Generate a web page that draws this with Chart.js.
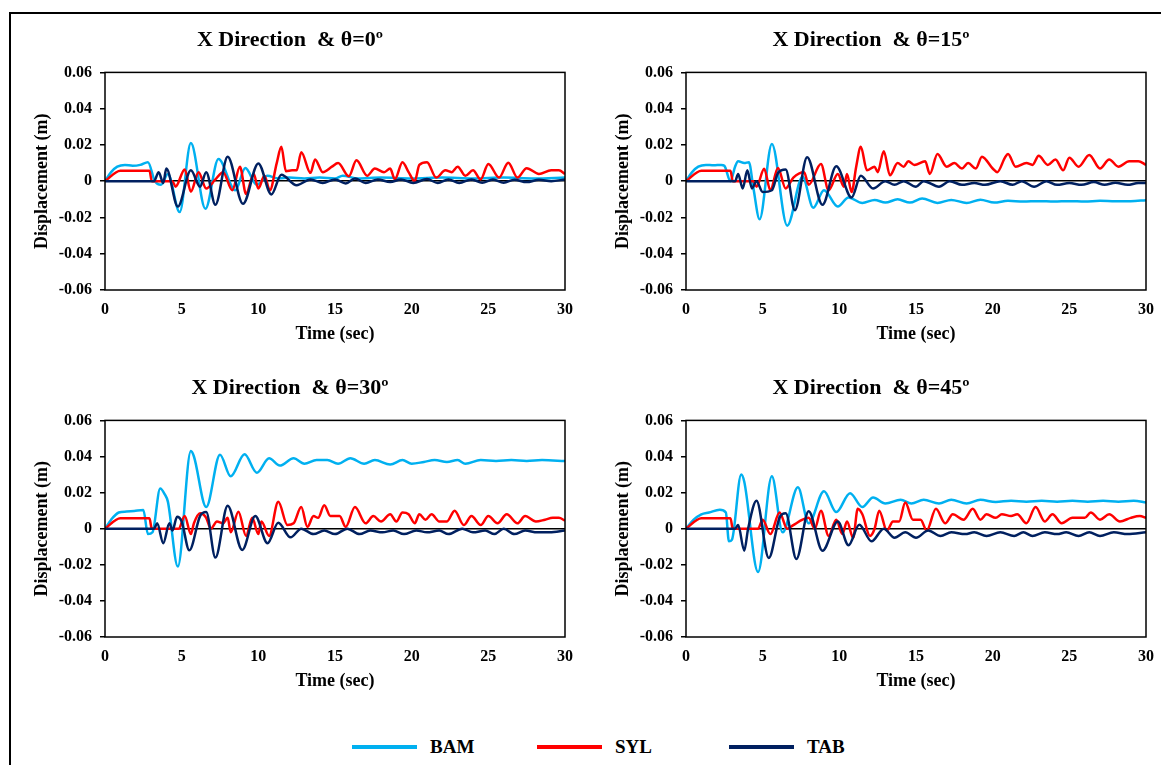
<!DOCTYPE html>
<html lang="en">
<head>
<meta charset="utf-8">
<title>Displacement time histories</title>
<script src="https://cdn.jsdelivr.net/npm/chart.js@4.4.0/dist/chart.umd.min.js"></script>
<style>
  html, body { margin: 0; padding: 0; background: #fff; width: 1161px; height: 765px; overflow: hidden; }
  #frame { position: absolute; left: 9px; top: 12px; width: 1300px; height: 900px;
           border-left: 2px solid #000; border-top: 2px solid #000; }
  canvas { position: absolute; }
  .sw { position: absolute; height: 4px; width: 65px; }
  .lt { position: absolute; font: bold 19px "Liberation Serif", "Times New Roman", serif; color: #000; line-height: 20px; }
</style>
</head>
<body>
<div id="frame"></div>
<canvas id="c0" width="570" height="335" style="left:15px;top:15px"></canvas>
<canvas id="c15" width="570" height="335" style="left:596px;top:15px"></canvas>
<canvas id="c30" width="570" height="334" style="left:15px;top:363px"></canvas>
<canvas id="c45" width="570" height="334" style="left:596px;top:363px"></canvas>
<div id="legend"></div>

<script>
// series names and colours
var seriesNames = ['BAM', 'SYL', 'TAB'];
var seriesColors = ['#00B0F0', '#FF0000', '#002060'];

// panel titles
var titles = ['X Direction  & \u03B8=0\u00BA', 'X Direction  & \u03B8=15\u00BA',
              'X Direction  & \u03B8=30\u00BA', 'X Direction  & \u03B8=45\u00BA'];

// axis ranges / ticks
var xMin = 0, xMax = 30, xStep = 5;
var yMin = -0.06, yMax = 0.06, yStep = 0.02;

// [time (s), displacement (m)]
var bam0 = [[0,0],[0.4,0.005],[0.8,0.008],[1.3,0.009],[1.8,0.0085],[2.3,0.009],[2.8,0.0105],[3.25,0],[3.65,-0.002],[4.1,0.004],[4.87,-0.017],[5.6,0.021],[6.55,-0.0152],[7.4,0.0122],[8.5,-0.005],[9.15,0.0073],[9.9,-0.002],[10.6,0.003],[11.3,0.0015],[12,0.002],[13,0.0015],[14,0.002],[15,0.0015],[15.5,0.003],[16.5,0.0015],[18,0.002],[20,0.0015],[22,0.002],[24,0.0015],[26,0.002],[28,0.0015],[30,0.002]];
var syl0 = [[0,0],[1.0,0.0058],[2.9,0.0058],[3.05,0],[4.4,0],[4.6,-0.003],[5.2,0.0065],[5.6,-0.0058],[6.1,0.005],[6.6,-0.004],[7.2,0.001],[7.7,0.005],[8.3,-0.005],[8.8,0.008],[9.2,-0.007],[9.7,0.004],[10.0,-0.004],[10.4,0.003],[10.75,-0.005],[11.2,0.01],[11.5,0.019],[11.8,0.0055],[12.2,0.006],[12.5,0.006],[12.8,0.016],[13.4,0.0046],[13.7,0.012],[14.2,0.005],[14.8,0.008],[15.2,0.01],[15.9,0.0027],[16.4,0.0115],[17.1,0.003],[17.6,0.007],[18.2,0.005],[18.6,0.007],[18.9,0.001],[19.4,0.0105],[19.8,0.005],[20.2,0.0],[20.5,0.009],[21.0,0.0105],[21.6,0.002],[22.2,0.006],[22.6,0.005],[23.0,0.008],[23.5,0.003],[24.0,0.006],[24.5,0.001],[25.0,0.0095],[25.7,0.002],[26.3,0.0102],[26.9,0.002],[27.5,0.0072],[28.3,0.004],[29.1,0.006],[29.6,0.006],[30,0.004]];
var tab0 = [[0,0],[3.2,0],[3.5,0.005],[3.8,-0.001],[4.0,0.007],[4.75,-0.014],[5.6,0.006],[6.2,-0.003],[6.6,0.005],[7.2,-0.013],[8.0,0.0135],[9.0,-0.0125],[10.0,0.0098],[10.85,-0.0073],[11.5,0.0035],[12.5,-0.0022],[13.4,0.001],[14.2,-0.001],[15.0,0.001],[15.7,-0.0012],[16.3,0.0015],[17.0,-0.001],[17.8,0.001],[18.6,-0.0005],[19.3,0.001],[20.1,-0.001],[21.0,0.0012],[21.7,-0.001],[22.4,0.001],[23.1,-0.001],[23.9,0.001],[24.6,-0.0008],[25.3,0.001],[26.0,-0.0008],[26.7,0.0008],[27.5,-0.0005],[28.3,0.0008],[29.1,0],[30,0.001]];

var bam15 = [[0,0],[0.4,0.005],[0.8,0.008],[1.3,0.009],[1.8,0.0088],[2.3,0.009],[2.5,0.0085],[2.9,0],[3.2,0.008],[3.4,0.011],[3.8,0.01],[4.1,0.0105],[4.4,-0.004],[4.8,-0.021],[5.6,0.0205],[6.6,-0.0245],[7.6,0.0025],[8.3,-0.0146],[9.0,-0.005],[9.9,-0.014],[10.6,-0.009],[11.5,-0.012],[12.3,-0.0103],[13.0,-0.0118],[13.8,-0.01],[14.6,-0.0118],[15.4,-0.0095],[16.4,-0.012],[17.3,-0.0103],[18.3,-0.012],[19.2,-0.0102],[20.1,-0.0118],[21.0,-0.0108],[22,-0.0112],[23,-0.011],[24,-0.0112],[25,-0.011],[26,-0.0112],[27,-0.0108],[28,-0.011],[29,-0.011],[30,-0.0105]];
var syl15 = [[0,0],[1.0,0.0058],[2.9,0.0058],[3.05,0],[4.4,0],[4.6,-0.003],[5.1,0.0068],[5.5,-0.005],[6.0,0.0073],[6.5,-0.004],[7.0,0.002],[7.7,0.005],[8.0,-0.002],[8.8,0.0095],[9.3,-0.005],[9.9,0.004],[10.3,-0.003],[10.5,0.004],[10.8,-0.006],[11.1,0.008],[11.4,0.019],[11.8,0.006],[12.3,0.008],[12.5,0.005],[12.9,0.0165],[13.3,0.0033],[13.8,0.01],[14.2,0.008],[14.5,0.011],[14.9,0.009],[15.6,0.011],[15.9,0.004],[16.4,0.015],[17.0,0.008],[17.5,0.01],[18.0,0.007],[18.4,0.01],[18.9,0.007],[19.3,0.0135],[20.0,0.007],[20.3,0.005],[20.8,0.013],[21.0,0.015],[21.5,0.008],[22.2,0.01],[22.6,0.009],[23.0,0.014],[23.6,0.009],[24.1,0.012],[24.6,0.006],[25.0,0.013],[25.6,0.008],[26.3,0.0145],[27.0,0.007],[27.6,0.012],[28.2,0.008],[28.9,0.011],[29.5,0.011],[30,0.009]];
var tab15 = [[0,0],[3.2,0],[3.4,0.004],[3.7,-0.004],[4.0,0.006],[4.3,-0.004],[4.6,0],[5.0,-0.006],[5.6,-0.005],[6.0,0.0045],[6.5,0.0064],[7.1,-0.016],[7.9,0.0132],[8.9,-0.013],[9.8,0.0082],[10.8,-0.009],[11.4,0.003],[12.2,-0.004],[13.0,0],[13.6,-0.002],[14.2,0],[15.0,-0.003],[15.5,0],[16.5,-0.003],[17.2,0],[18.0,-0.002],[18.8,-0.001],[19.5,-0.002],[20.5,0],[21.3,-0.002],[21.9,0],[22.7,-0.003],[23.5,0],[24.2,-0.002],[25.0,-0.001],[25.8,-0.002],[26.6,-0.0005],[27.3,-0.002],[28.0,-0.0008],[28.8,-0.002],[29.5,-0.001],[30,-0.001]];

var bam30 = [[0,0],[0.4,0.005],[0.9,0.009],[1.4,0.0095],[1.9,0.0098],[2.5,0.0103],[2.8,-0.003],[3.1,-0.002],[3.6,0.0223],[3.9,0.019],[4.1,0.015],[4.75,-0.021],[5.6,0.043],[5.8,0.04],[6.6,0.012],[7.5,0.041],[8.2,0.029],[9.1,0.0412],[9.9,0.031],[10.7,0.039],[11.4,0.035],[12.3,0.039],[13.0,0.036],[13.8,0.038],[14.5,0.038],[15.2,0.036],[16.0,0.039],[16.9,0.036],[17.6,0.038],[18.6,0.0355],[19.4,0.038],[20.0,0.036],[20.8,0.037],[21.5,0.038],[22.3,0.037],[23.0,0.038],[23.5,0.036],[24.5,0.038],[25.5,0.0375],[26.5,0.038],[27.5,0.0375],[28.5,0.038],[30,0.0375]];
var syl30 = [[0,0],[1.0,0.0058],[2.9,0.0058],[3.05,0],[4.8,0],[5.2,0.007],[5.6,-0.003],[5.8,0.003],[6.2,0.0085],[6.6,0.006],[6.9,0],[7.3,0.004],[7.7,0.003],[8.0,0.006],[8.2,-0.002],[8.7,0.0094],[9.2,-0.004],[9.6,0.006],[10.0,-0.003],[10.2,0.004],[10.7,-0.004],[11.3,0.0149],[11.9,0.002],[12.3,0.003],[12.8,0.012],[13.2,0.001],[13.6,0.007],[13.9,0.006],[14.3,0.013],[14.7,0.007],[15.3,0.007],[15.7,0.001],[16.3,0.012],[17.0,0.003],[17.5,0.007],[18.0,0.004],[18.6,0.008],[19.0,0.004],[19.4,0.009],[19.8,0.008],[20.2,0.003],[20.5,0.008],[20.9,0.005],[21.3,0.008],[21.8,0.004],[22.3,0.004],[22.8,0.01],[23.4,0.002],[23.9,0.007],[24.5,0.002],[25.0,0.007],[25.6,0.003],[26.2,0.008],[26.9,0.003],[27.4,0.007],[28.1,0.004],[28.7,0.005],[29.2,0.006],[29.6,0.006],[30,0.0045]];
var tab30 = [[0,0],[3.2,0],[3.4,0.003],[3.8,-0.008],[4.2,0.003],[4.4,-0.001],[4.7,0.0066],[5.0,0.004],[5.5,-0.012],[6.2,0.007],[6.6,0.0092],[7.2,-0.016],[8.0,0.0127],[8.95,-0.0118],[9.8,0.007],[10.6,-0.0081],[11.3,0.0033],[12.1,-0.0048],[12.8,0],[13.6,-0.003],[14.3,-0.001],[15.0,-0.003],[15.8,0],[16.6,-0.003],[17.3,-0.001],[18.1,-0.002],[18.8,-0.001],[19.5,-0.003],[20.3,-0.001],[21.0,-0.002],[21.8,-0.001],[22.4,-0.003],[23.3,0],[24.0,-0.002],[24.8,-0.001],[25.4,-0.003],[26.0,0],[26.7,-0.003],[27.4,-0.001],[28.2,-0.002],[29.0,-0.002],[30,-0.001]];

var bam45 = [[0,0],[0.5,0.005],[1.0,0.008],[1.5,0.009],[2.2,0.0105],[2.6,0.009],[2.8,-0.007],[3.0,-0.006],[3.6,0.03],[3.8,0.026],[4.7,-0.024],[5.6,0.029],[6.3,-0.002],[7.3,0.0229],[8.0,0.003],[9.0,0.0207],[9.8,0.0092],[10.7,0.0197],[11.5,0.012],[12.2,0.0173],[13.0,0.014],[14.0,0.016],[14.7,0.014],[15.5,0.016],[16.5,0.014],[17.3,0.016],[18.3,0.014],[19.2,0.016],[20.2,0.0148],[21.2,0.0155],[22.2,0.015],[23.2,0.0155],[24.2,0.015],[25.2,0.0155],[26.2,0.015],[27.2,0.0155],[28.2,0.015],[29.2,0.0155],[30,0.0145]];
var syl45 = [[0,0],[1.0,0.0058],[2.9,0.0058],[3.05,0],[4.7,0],[5.0,0.005],[5.5,-0.003],[6.1,0.009],[6.6,0],[7.0,0.002],[7.6,0.005],[8.0,0.006],[8.4,0],[8.8,0.01],[9.3,-0.004],[9.8,0.005],[10.2,-0.003],[10.5,0.004],[10.9,-0.005],[11.2,0.011],[11.5,0.008],[12.0,-0.004],[12.3,0],[12.6,0.01],[13.1,-0.001],[13.5,0.004],[13.9,0.004],[14.3,0.0145],[14.8,0.005],[15.3,0.005],[15.7,-0.001],[16.3,0.011],[16.9,0.003],[17.4,0.008],[18.1,0.005],[18.7,0.011],[19.2,0.005],[19.6,0.008],[20.2,0.006],[20.6,0.008],[21.2,0.007],[21.6,0.008],[22.2,0.003],[22.8,0.012],[23.4,0.004],[23.9,0.008],[24.5,0.003],[25.2,0.006],[26.0,0.006],[26.4,0.009],[27.0,0.005],[27.6,0.008],[28.3,0.004],[29.0,0.006],[29.6,0.007],[30,0.006]];
var tab45 = [[0,0],[3.2,0],[3.4,0.002],[3.8,-0.0122],[4.05,0],[4.6,0.0155],[5.4,-0.0162],[6.1,0.006],[6.5,0.0085],[7.2,-0.0168],[8.0,0.0096],[8.9,-0.0122],[9.9,0.004],[10.6,-0.0092],[11.3,0.0022],[12.1,-0.007],[12.9,0],[13.6,-0.005],[14.3,-0.002],[15.0,-0.005],[15.8,-0.001],[16.6,-0.004],[17.3,-0.002],[18.2,-0.003],[18.8,-0.002],[19.6,-0.004],[20.5,-0.002],[21.4,-0.004],[22.0,-0.002],[22.6,-0.004],[23.4,-0.002],[24.2,-0.003],[24.8,-0.002],[25.6,-0.004],[26.3,-0.002],[27.0,-0.004],[27.9,-0.002],[28.8,-0.003],[30,-0.002]];

var panels = [
  { id: 'c0',  title: titles[0], series: [bam0, syl0, tab0] },
  { id: 'c15', title: titles[1], series: [bam15, syl15, tab15] },
  { id: 'c30', title: titles[2], series: [bam30, syl30, tab30] },
  { id: 'c45', title: titles[3], series: [bam45, syl45, tab45] }
];

var serif = '"Liberation Serif", "Times New Roman", serif';

// black frame round the plot area (Excel style)
var plotBox = {
  id: 'plotBox',
  afterDatasetsDraw: function (chart) {
    var a = chart.chartArea, c = chart.ctx;
    c.save();
    c.strokeStyle = '#000';
    c.lineWidth = 1.5;
    c.strokeRect(a.left, a.top, a.right - a.left, a.bottom - a.top);
    c.restore();
  }
};

function isZero(v) { return Math.abs(v) < 1e-9; }

panels.forEach(function (p) {
  var datasets = p.series.map(function (s, i) {
    return {
      label: seriesNames[i],
      data: s.map(function (pt) { return { x: pt[0], y: pt[1] }; }),
      borderColor: seriesColors[i],
      borderWidth: 2.5,
      pointRadius: 0,
      showLine: true,
      fill: false,
      cubicInterpolationMode: 'monotone',
      order: 2 - i
    };
  });

  new Chart(document.getElementById(p.id), {
    type: 'scatter',
    data: { datasets: datasets },
    plugins: [plotBox],
    options: {
      responsive: false,
      animation: false,
      devicePixelRatio: 1,
      layout: { padding: { left: 0, right: 20, top: 0, bottom: 0 } },
      plugins: {
        legend: { display: false },
        tooltip: { enabled: false },
        title: {
          display: true,
          text: p.title,
          color: '#000',
          font: { family: serif, size: 22, weight: 'bold', lineHeight: 1.2 },
          padding: { top: 12, bottom: 19 }
        }
      },
      scales: {
        x: {
          type: 'linear',
          min: xMin, max: xMax,
          border: { display: false },
          grid: { display: false },
          ticks: { stepSize: xStep, color: '#000', padding: 2, maxRotation: 0,
                   font: { family: serif, size: 16, weight: 'bold' } },
          title: { display: true, text: 'Time (sec)', color: '#000',
                   font: { family: serif, size: 18, weight: 'bold', lineHeight: 1.2 },
                   padding: { top: 0, bottom: 5 } },
          afterFit: function (s) { s.height = 60; }
        },
        y: {
          min: yMin, max: yMax,
          border: { display: false },
          grid: {
            color: function (c) { return c.tick && isZero(c.tick.value) ? '#000' : 'rgba(0,0,0,0)'; },
            lineWidth: 1.5,
            drawTicks: true,
            tickLength: 5,
            tickColor: '#000',
            tickWidth: 1.5
          },
          ticks: {
            stepSize: yStep, color: '#000', padding: 8,
            font: { family: serif, size: 16, weight: 'bold' },
            callback: function (v) { return isZero(v) ? '0' : Number(v).toFixed(2); }
          },
          title: { display: true, text: 'Displacement (m)', color: '#000',
                   font: { family: serif, size: 18, weight: 'bold', lineHeight: 1.2 },
                   padding: { top: 16.5, bottom: 0 } },
          afterFit: function (s) { s.width = 90; }
        }
      }
    }
  });
});

// shared legend along the bottom
var legendX = [352, 537, 729];
var legend = document.getElementById('legend');
seriesNames.forEach(function (name, i) {
  var sw = document.createElement('div');
  sw.className = 'sw';
  sw.style.left = legendX[i] + 'px';
  sw.style.top = '745px';
  sw.style.background = seriesColors[i];
  legend.appendChild(sw);
  var t = document.createElement('div');
  t.className = 'lt';
  t.style.left = (legendX[i] + 78) + 'px';
  t.style.top = '737px';
  t.textContent = name;
  legend.appendChild(t);
});
</script>
</body>
</html>
